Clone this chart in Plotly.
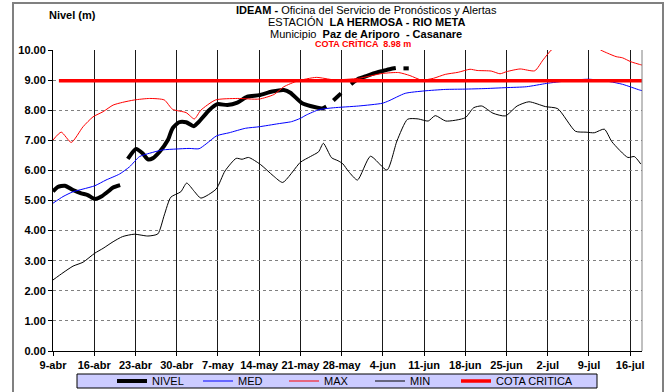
import pandas as pd
import plotly.graph_objects as go

# Periodo del hidrograma
INICIO = pd.Timestamp("2011-04-09")
FIN = pd.Timestamp("2011-07-18")

semanas = ["9-abr", "16-abr", "23-abr", "30-abr", "7-may", "14-may", "21-may",
           "28-may", "4-jun", "11-jun", "18-jun", "25-jun", "2-jul", "9-jul", "16-jul"]

# Nivel observado (dias desde el 9-abr); None marca datos faltantes
nivel_dia = [0.0, 0.8, 2.0, 3.4, 4.8, 5.9, 7.1, 8.2, 9.3, 10.2, 11.4,
             12.0,
             12.7, 14.1, 15.2, 16.1, 16.9, 18.1, 19.5, 20.3, 21.4, 22.6, 23.9, 24.8,
             26.5, 27.9, 29.6, 31.3, 33.0, 35.0, 37.2, 39.2, 40.3, 42.3, 43.7, 45.7, 46.4,
             47.0,
             47.6, 48.9,
             49.8,
             50.6, 51.9, 53.0, 54.4, 55.9, 57.3, 58.2,
             58.9,
             59.5, 60.4]
nivel = [5.30, 5.45, 5.49, 5.35, 5.24, 5.18, 5.05, 5.13, 5.29, 5.43, 5.51,
         None,
         6.38, 6.71, 6.57, 6.37, 6.40, 6.62, 7.01, 7.40, 7.60, 7.60, 7.47, 7.62,
         8.00, 8.20, 8.17, 8.25, 8.45, 8.50, 8.62, 8.67, 8.58, 8.23, 8.14, 8.06, 8.12,
         None,
         8.32, 8.56,
         None,
         8.86, 9.05, 9.12, 9.22, 9.30, 9.37, 9.40,
         None,
         9.39, 9.39]

# Nivel medio multianual
med_dia = [0, 1.7, 3.4, 5.1, 7.1, 9.0, 11.3, 13.0, 14.7, 16.4, 18.6, 20.9, 23.1, 24.8,
           26.0, 27.8, 29.9, 32.7, 35.0, 38.2, 40.5, 42.0, 43.0, 45.2, 47.6, 51.9, 55.9,
           57.0, 59.8, 63.0, 66.6, 69.8, 73.5, 76.9, 80.4, 83.8, 87.1, 90.9, 94.5, 96.7,
           99.6, 100]
med = [4.91, 5.13, 5.29, 5.38, 5.49, 5.68, 5.88, 6.12, 6.46, 6.57, 6.68, 6.71, 6.73, 6.72,
       6.88, 7.15, 7.25, 7.40, 7.45, 7.55, 7.62, 7.73, 7.84, 8.02, 8.08, 8.14, 8.23,
       8.31, 8.56, 8.64, 8.69, 8.70, 8.72, 8.75, 8.78, 8.89, 8.97, 9.03, 8.95, 8.86,
       8.67, 8.65]

# Nivel maximo multianual
max_dia = [0, 1.4, 3.1, 5.1, 6.8, 8.5, 10.2, 11.8, 13.8, 16.4, 18.9, 20.3, 22.6, 24.0,
           25.1, 27.6, 31.3, 35.0, 37.5, 39.2, 41.5, 44.7, 47.7, 51.9, 55.9, 58.7, 60.6,
           62.6, 64.6, 66.6, 68.8, 70.8, 72.0, 74.4, 75.9, 77.0, 79.3, 81.8, 83.2, 84.6,
           86.5, 89.0, 91.5, 93.0, 94.2, 95.6, 96.7, 98.1, 99.6, 100]
maxv = [7.01, 7.27, 6.93, 7.45, 7.78, 7.95, 8.17, 8.26, 8.34, 8.39, 8.34, 8.03, 7.92, 7.71,
        8.00, 8.34, 8.39, 8.37, 8.52, 8.78, 8.97, 9.09, 9.01, 9.06, 9.22, 9.25, 9.15,
        9.00, 9.06, 9.19, 9.26, 9.36, 9.32, 9.30, 9.21, 9.28, 9.37, 9.31, 9.67, 10.00,
        10.30, 10.40, 10.25, 10.00, 9.89, 9.78, 9.74, 9.61, 9.52, 9.50]

# Nivel minimo multianual
min_dia = [0, 1.7, 3.4, 5.1, 7.1, 8.5, 10.2, 11.8, 13.8, 16.1, 17.8, 18.9, 20.0, 21.7,
           22.7, 24.0, 25.1, 27.7, 29.2, 31.1, 32.1, 33.2, 35.2, 37.4, 39.0, 42.0, 43.7,
           45.1, 45.9, 47.3, 48.4, 49.2, 50.2, 51.7, 53.9, 56.7, 58.4, 60.2, 62.0, 63.7,
           64.9, 66.7, 70.0, 71.4, 72.8, 74.7, 76.8, 78.8, 80.8, 83.6, 85.7, 88.7, 90.5,
           91.9, 93.6, 94.9, 97.6, 98.7, 99.8]
minv = [2.36, 2.60, 2.82, 2.95, 3.25, 3.41, 3.63, 3.80, 3.88, 3.82, 3.89, 4.52, 5.11, 5.29,
        5.58, 5.30, 5.08, 5.38, 5.98, 6.40, 6.37, 6.43, 6.20, 5.82, 5.60, 6.27, 6.46,
        6.62, 6.90, 6.42, 6.32, 6.22, 5.96, 5.68, 6.47, 6.01, 6.98, 7.70, 7.71, 7.64,
        7.82, 7.64, 7.75, 8.08, 8.14, 7.90, 7.81, 8.14, 8.28, 8.12, 8.05, 7.30, 7.27,
        7.25, 7.37, 6.95, 6.43, 6.46, 6.21]

# Cota critica de la estacion
COTA = 8.98
cota_dia = [1, 100]


def fechas(dias):
    return [INICIO + pd.Timedelta(days=d) for d in dias]


# Conversion de pixeles de la figura a coordenadas "paper"
L, R, T, B = 53, 642, 50, 351


def px(xp):
    return (xp - L) / (R - L)


def py(yp):
    return (B - yp) / (B - T)


FUENTE = "Liberation Sans, Arial, sans-serif"

fig = go.Figure()
fig.add_trace(go.Scatter(x=fechas(nivel_dia), y=nivel, name="NIVEL", mode="lines",
                         line=dict(color="black", width=4, shape="spline", smoothing=0.6),
                         connectgaps=False))
fig.add_trace(go.Scatter(x=fechas(med_dia), y=med, name="MED", mode="lines",
                         line=dict(color="#0000FF", width=1, shape="spline", smoothing=0.6)))
fig.add_trace(go.Scatter(x=fechas(max_dia), y=maxv, name="MAX", mode="lines",
                         line=dict(color="#FF0000", width=1, shape="spline", smoothing=0.6)))
fig.add_trace(go.Scatter(x=fechas(min_dia), y=minv, name="MIN", mode="lines",
                         line=dict(color="black", width=1, shape="spline", smoothing=0.6)))
fig.add_trace(go.Scatter(x=fechas(cota_dia), y=[COTA] * len(cota_dia), name="COTA CRITICA",
                         mode="lines", line=dict(color="#FF0000", width=3.5),
                         legend="legend2"))

tick_fechas = [INICIO + pd.Timedelta(days=7 * i) for i in range(len(semanas))]

fig.update_xaxes(type="date", range=[INICIO, FIN], tickvals=tick_fechas, ticktext=semanas,
                 showgrid=True, gridcolor="#1a1a1a", gridwidth=1,
                 showline=True, linecolor="black", linewidth=1,
                 ticks="outside", ticklen=4, tickcolor="black",
                 tickfont=dict(family=FUENTE, size=11, color="black", weight="bold"))
fig.update_yaxes(range=[0, 10], dtick=1, tickformat=".2f",
                 showgrid=True, gridcolor="#808080", gridwidth=1, griddash="dot",
                 zeroline=False, showline=True, linecolor="black", linewidth=1,
                 ticks="outside", ticklen=4, tickcolor="black",
                 tickfont=dict(family=FUENTE, size=11, color="black", weight="bold"))

anot = [
    (72, 15, "<b>Nivel (m)</b>", 11, "black"),
    (366, 10, "<b>IDEAM - </b>Oficina del Servicio de Pronósticos y Alertas", 11, "black"),
    (366, 22, "ESTACIÓN  <b>LA HERMOSA - RIO META</b>", 11, "black"),
    (366, 34, "Municipio  <b>Paz de Ariporo  - Casanare</b>", 11, "black"),
    (363, 44, "<b>COTA CRÍTICA  8.98 m</b>", 9, "#FF0000"),
]
for xa, ya, texto, tam, col in anot:
    fig.add_annotation(x=px(xa), y=py(ya), xref="paper", yref="paper", text=texto,
                       showarrow=False, xanchor="center", yanchor="middle",
                       font=dict(family=FUENTE, size=tam, color=col))

# Marco exterior, borde derecho del area de trazado y recuadro de la leyenda
fig.add_shape(type="rect", xref="paper", yref="paper",
              x0=px(13), x1=px(663), y0=py(3), y1=py(400),
              line=dict(color="#808080", width=2), layer="below")
fig.add_shape(type="line", xref="paper", yref="paper",
              x0=1, x1=1, y0=0, y1=1, line=dict(color="#808080", width=1))
fig.add_shape(type="rect", xref="paper", yref="paper",
              x0=px(77), x1=px(597), y0=py(374), y1=py(388),
              line=dict(color="black", width=1), fillcolor="#CCCCFF", layer="below")

leyenda = dict(orientation="h", y=py(381), xanchor="left", yanchor="middle",
               bgcolor="rgba(0,0,0,0)", borderwidth=0,
               font=dict(family=FUENTE, size=11, color="black"),
               itemwidth=30, tracegroupgap=0)

fig.update_layout(
    width=668, height=392,
    margin=dict(l=L, r=668 - R, t=T, b=392 - B, autoexpand=False),
    paper_bgcolor="white", plot_bgcolor="white",
    showlegend=True,
    legend=dict(leyenda, x=px(112), entrywidth=41),
    legend2=dict(leyenda, x=px(456)),
)

fig.write_html("out.html")
